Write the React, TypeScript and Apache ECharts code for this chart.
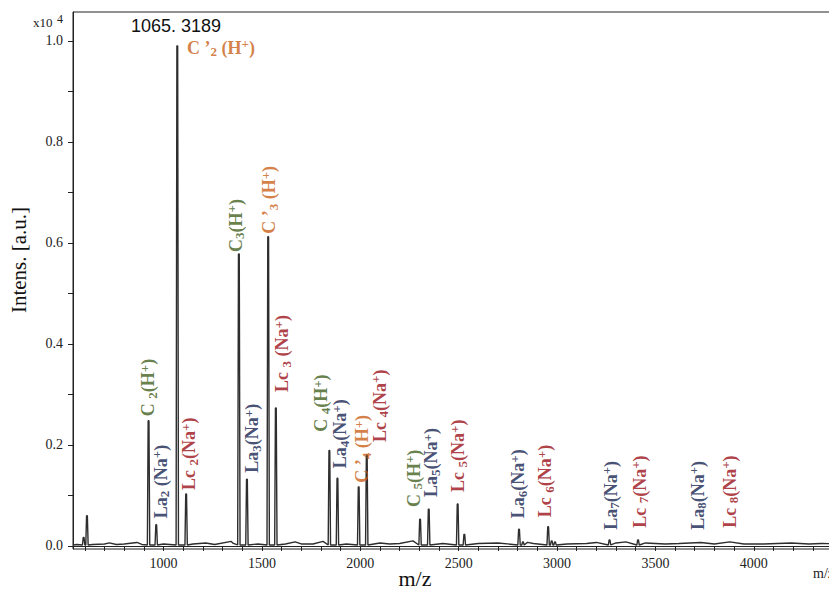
import React, { useEffect, useRef } from "react";
import * as echarts from "echarts";

// Spectrum peaks (m/z, intensity in units of 10^4)
const peakMz = [594, 611, 924, 963, 1070, 1115, 1383, 1424, 1532, 1571, 1843, 1884, 1992, 2033, 2304, 2348, 2495, 2529, 2807, 2827, 2955, 2973, 2990, 3267, 3412];
const peakIntensity = [0.017, 0.06, 0.248, 0.042, 0.99, 0.103, 0.578, 0.132, 0.612, 0.273, 0.189, 0.134, 0.117, 0.18, 0.053, 0.073, 0.083, 0.023, 0.033, 0.008, 0.038, 0.01, 0.008, 0.012, 0.012];

// Baseline noise
const noiseMz = [560, 640, 700, 725, 760, 800, 865, 890, 1000, 1150, 1215, 1260, 1344, 1355, 1480, 1620, 1669, 1700, 1760, 1811, 1930, 2100, 2150, 2200, 2268, 2420, 2600, 2700, 2850, 2880, 3050, 3150, 3200, 3300, 3350, 3450, 3550, 3620, 3731, 3800, 3878, 3950, 4050, 4191, 4280, 4344, 4450];
const noiseIntensity = [0.003, 0.003, 0.004, 0.006, 0.003, 0.004, 0.007, 0.003, 0.004, 0.004, 0.006, 0.003, 0.009, 0.005, 0.004, 0.004, 0.008, 0.004, 0.004, 0.009, 0.004, 0.006, 0.004, 0.005, 0.01, 0.005, 0.005, 0.006, 0.007, 0.005, 0.004, 0.005, 0.007, 0.006, 0.008, 0.006, 0.004, 0.005, 0.007, 0.004, 0.008, 0.004, 0.004, 0.006, 0.004, 0.005, 0.004];
const baselineLevel = 0.002;

// Peak annotations
const labelMz = [922, 986, 1120, 1131, 1367, 1450, 1537, 1603, 1801, 1898, 2009, 2100, 2273, 2360, 2497, 2802, 2939, 3274, 3421, 3716, 3878];
const labelIntensity = [0.257, 0.055, 0.986, 0.111, 0.582, 0.145, 0.618, 0.305, 0.226, 0.154, 0.125, 0.206, 0.077, 0.097, 0.107, 0.055, 0.057, 0.032, 0.036, 0.032, 0.036];
const labelKind = ["C", "La", "Cp", "Lc", "C", "La", "Cp", "Lc", "C", "La", "Cp", "Lc", "C", "La", "Lc", "La", "Lc", "La", "Lc", "La", "Lc"];
const labelBase = ["C ", "La", "C \u2019", "Lc ", "C", "La", "C \u2019", "Lc ", "C ", "La", "C \u2019", "Lc ", "C ", "La", "Lc ", "La", "Lc ", "La", "Lc ", "La", "Lc "];
const labelSub = ["2", "2", "2", "2", "3", "3", "3", "3", "4", "4", "4", "4", "5", "5", "5", "6", "6", "7", "7", "8", "8"];
const labelIon = ["(H", " (Na", " (H", "(Na", "(H", "(Na", " (H", " (Na", "(H", "(Na", " (H", "(Na", "(H", "(Na", "(Na", "(Na", "(Na", "(Na", "(Na", "(Na", "(Na"];

// Axis ticks and labels
const xTickValues = [600, 700, 800, 900, 1000, 1100, 1200, 1300, 1400, 1500, 1600, 1700, 1800, 1900, 2000, 2100, 2200, 2300, 2400, 2500, 2600, 2700, 2800, 2900, 3000, 3100, 3200, 3300, 3400, 3500, 3600, 3700, 3800, 3900, 4000, 4100, 4200, 4300, 4400, 4500];
const xTickLabels = [1000, 1500, 2000, 2500, 3000, 3500, 4000];
const yTickValues = [0, 0.1, 0.2, 0.3, 0.4, 0.5, 0.6, 0.7, 0.8, 0.9, 1.0];
const yTickLabels = [0, 0.2, 0.4, 0.6, 0.8, 1.0];

const kindColor: Record<string, string> = {
  C: "#3f5e1c",
  Cp: "#c95f18",
  La: "#16244f",
  Lc: "#9a0f18",
};

const SERIF = "'Liberation Serif', 'Times New Roman', serif";

function buildTrace(): [number, number][] {
  const pts: [number, number][] = [[540, baselineLevel], [4540, baselineLevel]];
  peakMz.forEach((mz, i) => {
    const h = peakIntensity[i];
    pts.push([mz - 6, baselineLevel], [mz - 2, h], [mz + 2, h], [mz + 6, baselineLevel]);
  });
  noiseMz.forEach((mz, i) => pts.push([mz, noiseIntensity[i]]));
  pts.sort((a, b) => a[0] - b[0]);
  return pts;
}

function buildLabels() {
  return labelMz.map((mz, i) => {
    const color = kindColor[labelKind[i]];
    const horizontal = labelKind[i] === "Cp" && labelSub[i] === "2";
    const base = { fontFamily: SERIF, fontWeight: "bold" as const, color };
    return {
      value: [mz, labelIntensity[i]],
      label: {
        show: true,
        position: "inside" as const,
        rotate: horizontal ? 0 : 90,
        align: "left" as const,
        verticalAlign: "middle" as const,
        formatter: `{m|${labelBase[i]}}{s|${labelSub[i]}}{m|${labelIon[i]}}{p|+}{m|)}`,
        rich: {
          m: { ...base, fontSize: 18, lineHeight: 21 },
          s: { ...base, fontSize: 13, lineHeight: 10, verticalAlign: "bottom" },
          p: { ...base, fontSize: 13, lineHeight: 13, verticalAlign: "top" },
        },
      },
    };
  });
}

export default function App() {
  const ref = useRef<HTMLDivElement>(null);

  useEffect(() => {
    if (!ref.current) return;
    const chart = echarts.init(ref.current, undefined, { renderer: "svg" });
    chart.setOption({
      animation: false,
      backgroundColor: "#ffffff",
      grid: {
        left: 73,
        top: 12,
        right: 10,
        bottom: 43,
        show: true,
        borderColor: "#222",
        borderWidth: 1,
        backgroundColor: "transparent",
      },
      xAxis: {
        type: "value",
        min: 540,
        max: 4540,
        axisLine: { show: true, lineStyle: { color: "#222", width: 1 } },
        axisTick: { show: true, length: 5, customValues: xTickValues, lineStyle: { color: "#222" } },
        axisLabel: {
          customValues: xTickLabels,
          formatter: (v: number) => String(v),
          margin: 7,
          fontFamily: SERIF,
          fontSize: 14,
          color: "#222",
        },
        splitLine: { show: false },
      },
      yAxis: {
        type: "value",
        min: -0.006,
        max: 1.057,
        axisLine: { show: true, lineStyle: { color: "#222", width: 1 } },
        axisTick: { show: true, length: 5, customValues: yTickValues, lineStyle: { color: "#222" } },
        axisLabel: {
          customValues: yTickLabels,
          formatter: (v: number) => v.toFixed(1),
          margin: 10,
          fontFamily: SERIF,
          fontSize: 14,
          color: "#222",
        },
        splitLine: { show: false },
      },
      graphic: [
        { type: "text", x: 33, y: 22, style: { text: "x10", font: `13px ${SERIF}`, fill: "#222", verticalAlign: "middle" } },
        { type: "text", x: 57, y: 19, style: { text: "4", font: `12px ${SERIF}`, fill: "#222", verticalAlign: "middle" } },
        { type: "text", x: 131, y: 26, style: { text: "1065. 3189", font: "18px 'Liberation Sans', Arial, sans-serif", fill: "#111", verticalAlign: "middle" } },
        { type: "text", x: 19, y: 260, rotation: Math.PI / 2, style: { text: "Intens. [a.u.]", font: `21px ${SERIF}`, fill: "#111", align: "center", verticalAlign: "middle" } },
        { type: "text", x: 415, y: 578, style: { text: "m/z", font: `22px ${SERIF}`, fill: "#111", align: "center", verticalAlign: "middle" } },
        { type: "text", x: 813, y: 573, style: { text: "m/z", font: `14px ${SERIF}`, fill: "#222", align: "left", verticalAlign: "middle" } },
      ],
      series: [
        {
          type: "line",
          data: buildTrace(),
          symbol: "none",
          silent: true,
          clip: true,
          lineStyle: { color: "#2e2e2e", width: 1.4 },
          z: 2,
        },
        {
          type: "scatter",
          data: buildLabels(),
          symbolSize: 1,
          itemStyle: { color: "transparent" },
          silent: true,
          z: 3,
        },
      ],
    });
    return () => chart.dispose();
  }, []);

  return (
    <div style={{ position: "fixed", left: 0, top: 0, width: 829, height: 592, overflow: "hidden", background: "#fff" }}>
      <div ref={ref} style={{ width: 870, height: 592 }} />
    </div>
  );
}
